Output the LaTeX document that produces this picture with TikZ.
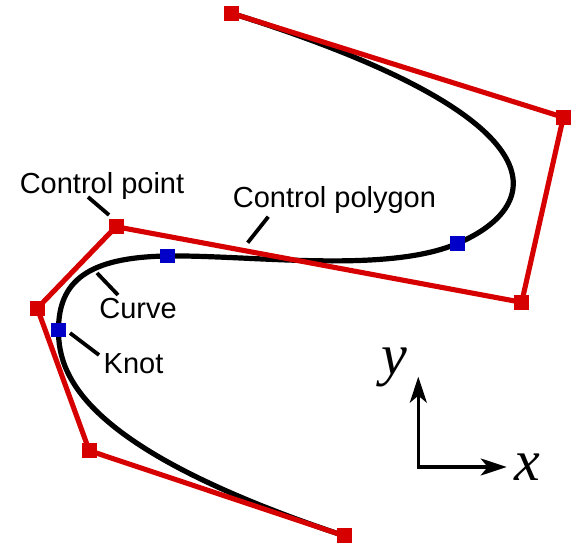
\documentclass[tikz,border=0pt]{standalone}
\usepackage{fontspec}
\setmainfont{Liberation Sans}
\newfontfamily\axisfont{Liberation Serif}
\usetikzlibrary{arrows.meta}
\definecolor{cpred}{RGB}{214,0,0}
\definecolor{knotblue}{RGB}{0,0,200}
\tikzset{
  cpbox/.style={fill=cpred,minimum size=15pt,inner sep=0pt,outer sep=0pt},
  knotbox/.style={fill=knotblue,minimum size=14.5pt,inner sep=0pt,outer sep=0pt},
  poly/.style={draw=cpred,line width=5.1pt,line join=miter},
  curve/.style={draw=black,line width=5.2pt},
  leader/.style={draw=black,line width=3.8pt},
  lbl/.style={font=\fontsize{29}{35}\selectfont,inner sep=0pt,anchor=base},
  axislbl/.style={font=\axisfont\itshape\fontsize{58}{64}\selectfont,inner sep=0pt,anchor=base},
  axisline/.style={draw=black,line width=3.3pt,line join=miter,
    arrows={Stealth[length=26pt,width=17pt,inset=7pt]-Stealth[length=26pt,width=17pt,inset=7pt]}}
}
\begin{document}
\begin{tikzpicture}[x=1pt,y=-1pt]
\useasboundingbox (0,0) rectangle (571,545);
% control points
\node[cpbox] (p0) at (344,535.7) {};
\node[cpbox] (p1) at (89.3,450.7) {};
\node[cpbox] (p2) at (37.3,308.3) {};
\node[cpbox] (p3) at (116,226.7) {};
\node[cpbox] (p4) at (521.7,302.3) {};
\node[cpbox] (p5) at (563.3,117.3) {};
\node[cpbox] (p6) at (231.7,13.3) {};
% knots (positions)
\coordinate (k1c) at (58.5,330);
\coordinate (k2c) at (167.7,256);
\coordinate (k3c) at (457.3,243.5);
% curve
\path[curve] (p0.center) .. controls (p1.center) and (58,379.5) .. (k1c)
  .. controls (58.5,281) and (88,257.2) .. (k2c)
  .. controls (250,254.9) and (386.5,274) .. (k3c)
  .. controls (548,204.7) and (p5.center) .. (p6.center);
% control polygon
\path[poly] (p0.center) -- (p1.center) -- (p2.center) -- (p3.center) -- (p4.center) -- (p5.center) -- (p6.center);
% redraw control point squares on top
\foreach \p in {p0,p1,p2,p3,p4,p5,p6} { \fill[cpred] ([shift={(-7.5pt,-7.5pt)}]\p.center) rectangle ([shift={(7.5pt,7.5pt)}]\p.center); }
% knots
\node[knotbox] (k1) at (k1c) {};
\node[knotbox] (k2) at (k2c) {};
\node[knotbox] (k3) at (k3c) {};
% labels
\node[lbl] (lcp) at (102,193.3) {Control point};
\node[lbl] (lpoly) at (334.5,207.3) {Control polygon};
\node[lbl] (lcurve) at (138,318.3) {Curve};
\node[lbl] (lknot) at (133.5,373.3) {Knot};
% leader lines
\coordinate (a1) at (88,197); \coordinate (a2) at (109,215);
\coordinate (b1) at (268.3,216.7); \coordinate (b2) at (247.7,242.7);
\coordinate (c1) at (118,295); \coordinate (c2) at (97,273);
\coordinate (d1) at (99,355); \coordinate (d2) at (70,333);
\path[leader] (a1) -- (a2);
\path[leader] (b1) -- (b2);
\path[leader] (c1) -- (c2);
\path[leader] (d1) -- (d2);
% axes
\coordinate (O) at (418.3,467);
\coordinate (Xt) at (506.7,467);
\coordinate (Yt) at (418.3,376.7);
\path[axisline] (Yt) -- (O) -- (Xt);
\node[axislbl] (ly) at (394,375) {y};
\node[axislbl] (lx) at (527,481) {x};
\end{tikzpicture}
\end{document}
